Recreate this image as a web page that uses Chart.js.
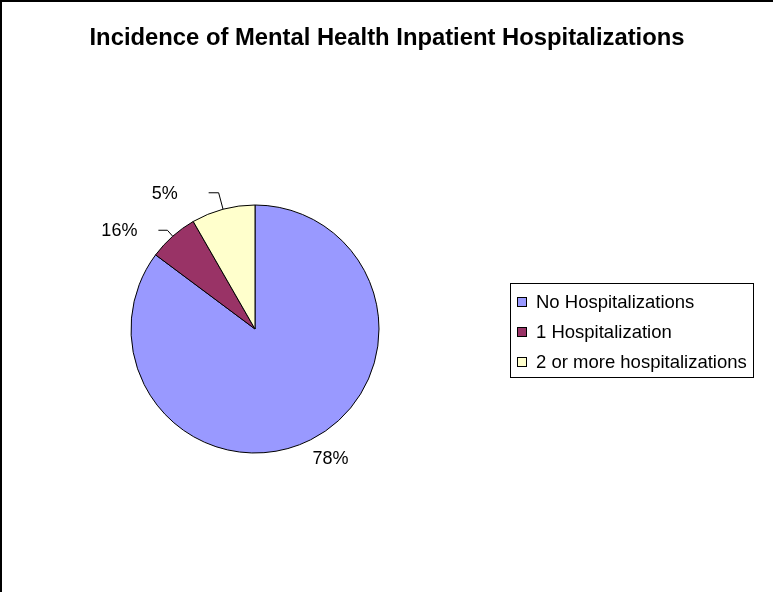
<!DOCTYPE html>
<html>
<head>
<meta charset="utf-8">
<script src="https://cdn.jsdelivr.net/npm/chart.js@4"></script>
<style>
html,body{margin:0;padding:0;background:#fff}
#wrap{position:relative;width:773px;height:592px;box-sizing:border-box;border-top:2px solid #000;border-left:2px solid #000}
</style>
</head>
<body>
<div id="wrap"><canvas id="pie" width="771" height="590"></canvas></div>
<script>
const chartTitle = "Incidence of Mental Health Inpatient Hospitalizations"
const categories = ["No Hospitalizations","1 Hospitalization","2 or more hospitalizations"]
const sliceValues = [85.2, 6.5, 8.3]
const percentLabels = ["78%","16%","5%"]
const sliceColors = ["#9999FF","#993366","#FFFFCC"]

// label placement per slice: leader length out, horizontal leg, gap, free offset
const labelStyle = [
{lead:0, hline:0, gap:0, dx:20, dy:19},
{lead:8, hline:9, gap:21},
{lead:17, hline:10, gap:31}
]

const FONT = "'Liberation Sans', Arial, sans-serif"

const pieLabels = {
id:"pieLabels",
afterDatasetsDraw(chart){
const ctx = chart.ctx
const meta = chart.getDatasetMeta(0)
ctx.save()
ctx.font = "18px " + FONT
ctx.fillStyle = "#000"
ctx.strokeStyle = "#000"
ctx.lineWidth = 1
meta.data.forEach((arc, i) => {
const mid = (arc.startAngle + arc.endAngle) / 2
const cx = arc.x, cy = arc.y, r = arc.outerRadius
const ex = cx + Math.cos(mid) * r
const ey = cy + Math.sin(mid) * r
const s = labelStyle[i]
if (s.lead === 0) {
ctx.textAlign = "center"
ctx.textBaseline = "middle"
ctx.fillText(percentLabels[i], ex + s.dx, ey + s.dy)
return
}
const bx = ex + Math.cos(mid) * s.lead
const by = ey + Math.sin(mid) * s.lead
ctx.beginPath()
ctx.moveTo(ex, ey)
ctx.lineTo(bx, by)
ctx.lineTo(bx - s.hline, by)
ctx.stroke()
ctx.textAlign = "right"
ctx.textBaseline = "middle"
ctx.fillText(percentLabels[i], bx - s.hline - s.gap, by + 1)
})
ctx.restore()
}
}

const titleAndLegend = {
id:"titleAndLegend",
afterDraw(chart){
const ctx = chart.ctx
ctx.save()
ctx.fillStyle = "#000"
ctx.font = "bold 23.8px " + FONT
ctx.textAlign = "center"
ctx.textBaseline = "middle"
ctx.fillText(chartTitle, 385, 36)

ctx.strokeStyle = "#000"
ctx.lineWidth = 1
ctx.strokeRect(508.5, 281.5, 243, 94)
ctx.font = "18.5px " + FONT
ctx.textBaseline = "middle"
ctx.textAlign = "left"
categories.forEach((c, i) => {
const y = 300 + i * 30
ctx.fillStyle = sliceColors[i]
ctx.fillRect(515, y - 5, 10, 10)
ctx.strokeRect(515.5, y - 4.5, 9, 9)
ctx.fillStyle = "#000"
ctx.fillText(c, 534, y + 1)
})
ctx.restore()
}
}

new Chart(document.getElementById("pie"),{
type:"pie",
data:{
labels:categories,
datasets:[{
data:sliceValues,
backgroundColor:sliceColors,
borderColor:"#000",
borderWidth:1,
radius:124
}]
},
options:{
responsive:false,
animation:false,
layout:{padding:{left:127,right:392,top:202,bottom:138}},
plugins:{
legend:{display:false},
tooltip:{enabled:false},
title:{display:false}
}
},
plugins:[pieLabels, titleAndLegend]
})
</script>
</body>
</html>
